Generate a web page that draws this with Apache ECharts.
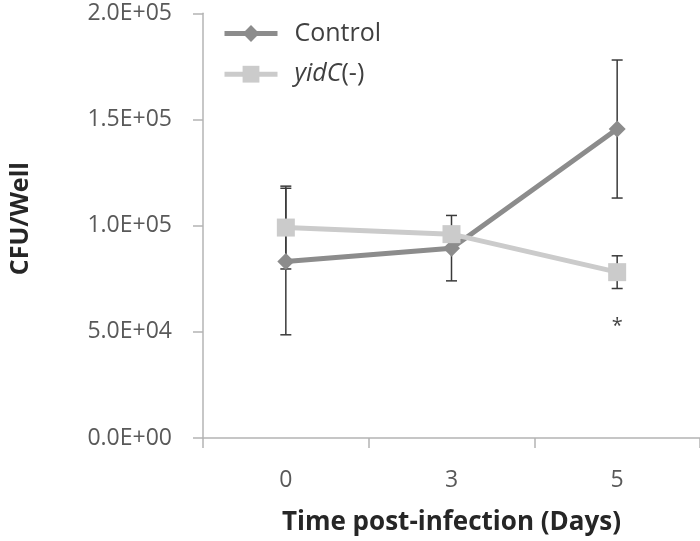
<!DOCTYPE html>
<html>
<head>
<meta charset="utf-8">
<script src="https://cdn.jsdelivr.net/npm/echarts@6/dist/echarts.min.js"></script>
<style>html,body{margin:0;padding:0;background:#fff}#c{width:700px;height:541px}</style>
</head>
<body>
<div id="c"></div>
<script>
const categories = ['0', '3', '5'];
const controlMean = [83100, 89400, 145500];
const controlErr = [34500, 15400, 32500];
const yidcMean = [99100, 96000, 78100];
const yidcErr = [19500, 3000, 7700];
const starPoint = [[2, 54400]];
const yTicks = [0, 50000, 100000, 150000, 200000];

function fmtSci(v) {
  if (v === 0) return '0.0E+00';
  const e = Math.floor(Math.log10(v) + 1e-9);
  const m = v / Math.pow(10, e);
  return m.toFixed(1) + 'E+' + String(e).padStart(2, '0');
}

function errData(mean, err) {
  return mean.map((m, i) => [i, m - err[i], m + err[i]]);
}

function errRender(params, api) {
  const x = api.value(0);
  const lo = api.coord([x, api.value(1)]);
  const hi = api.coord([x, api.value(2)]);
  const hw = 5.5;
  const style = { stroke: '#3a3a3a', lineWidth: 1.5, fill: null };
  return {
    type: 'group',
    children: [
      { type: 'line', shape: { x1: lo[0], y1: lo[1], x2: hi[0], y2: hi[1] }, style: style },
      { type: 'line', shape: { x1: lo[0] - hw, y1: lo[1], x2: lo[0] + hw, y2: lo[1] }, style: style },
      { type: 'line', shape: { x1: hi[0] - hw, y1: hi[1], x2: hi[0] + hw, y2: hi[1] }, style: style }
    ]
  };
}

const FONT = '"Open Sans", "Noto Sans", sans-serif';
const chart = echarts.init(document.getElementById('c'), null, { renderer: 'canvas' });
chart.setOption({
  animation: false,
  backgroundColor: '#fff',
  grid: { left: 201, right: 0, top: 13.3, bottom: 102.7, containLabel: false },
  legend: {
    orient: 'vertical',
    left: 217,
    top: 16,
    itemWidth: 53,
    itemHeight: 21,
    itemGap: 15.7,
    lineStyle: { width: 5 },
    textStyle: {
      fontFamily: FONT, fontSize: 25, color: '#404040', padding: [0, 0, 0, 12],
      rich: { i: { fontStyle: 'italic', fontFamily: FONT, fontSize: 25, color: '#404040' } }
    },
    formatter: function (name) {
      if (name === 'yidC(-)') return '{i|yidC}(-)';
      return name;
    },
    data: ['Control', 'yidC(-)']
  },
  xAxis: {
    type: 'category',
    data: categories,
    boundaryGap: true,
    axisLine: { lineStyle: { color: '#b4b4b4', width: 1.5 } },
    axisTick: { show: true, length: 10, interval: 0, lineStyle: { color: '#b4b4b4', width: 1.5 } },
    axisLabel: { margin: 30.5, fontFamily: FONT, fontSize: 23, color: '#595959' },
    name: 'Time post-infection (Days)',
    nameLocation: 'middle',
    nameGap: 72,
    nameTextStyle: { fontFamily: FONT, fontSize: 26, fontWeight: 'bold', color: '#262626' },
    splitLine: { show: false }
  },
  yAxis: {
    type: 'value',
    min: 0,
    max: 200000,
    interval: 50000,
    axisLine: { show: true, lineStyle: { color: '#b4b4b4', width: 1.5 } },
    axisTick: { show: true, length: 10, lineStyle: { color: '#b4b4b4', width: 1.5 } },
    axisLabel: { margin: 31, fontFamily: FONT, fontSize: 23, color: '#595959', formatter: fmtSci },
    splitLine: { show: false },
    name: 'CFU/Well',
    nameLocation: 'middle',
    nameGap: 170,
    nameTextStyle: { fontFamily: FONT, fontSize: 25, fontWeight: 'bold', color: '#262626', padding: [0, 0, 0, 14] }
  },
  series: [
    {
      name: 'ControlErr', type: 'custom', renderItem: errRender,
      data: errData(controlMean, controlErr), z: 1, silent: true
    },
    {
      name: 'yidCErr', type: 'custom', renderItem: errRender,
      data: errData(yidcMean, yidcErr), z: 1, silent: true
    },
    {
      name: 'Control', type: 'line', data: controlMean, z: 3,
      symbol: 'diamond', symbolSize: 17,
      lineStyle: { color: '#8c8c8c', width: 5 },
      itemStyle: { color: '#8c8c8c' }
    },
    {
      name: 'yidC(-)', type: 'line', data: yidcMean, z: 4,
      symbol: 'rect', symbolSize: 18,
      lineStyle: { color: '#cbcbcb', width: 5 },
      itemStyle: { color: '#cbcbcb' }
    },
    {
      name: 'star', type: 'scatter', data: starPoint, z: 5,
      symbolSize: 0,
      label: { show: true, position: 'inside', formatter: '*', fontSize: 20, color: '#111', fontFamily: FONT, offset: [0, 4] }
    }
  ]
});
</script>
</body>
</html>
